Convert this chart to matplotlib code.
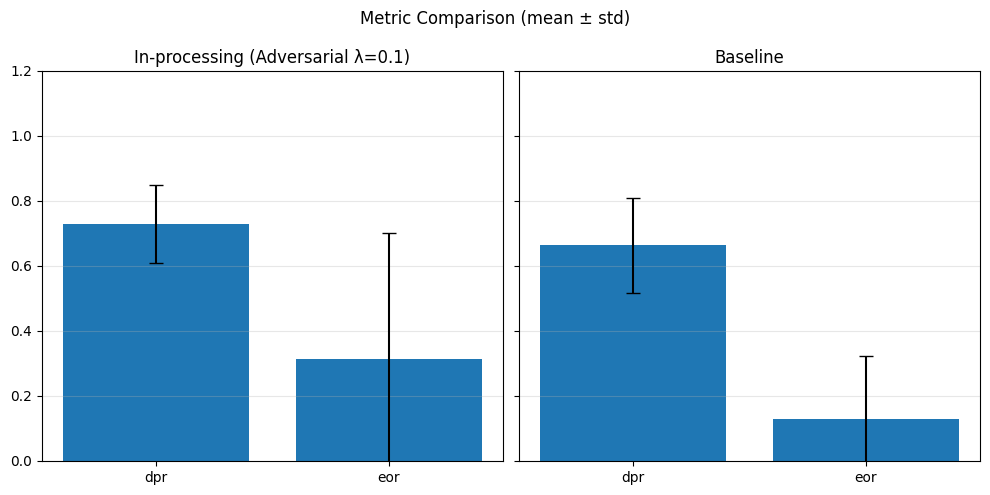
import matplotlib
matplotlib.use('Agg')
import matplotlib.pyplot as plt

metrics = ['dpr', 'eor']
titles = ['In-processing (Adversarial λ=0.1)', 'Baseline']
means = [[0.730, 0.313], [0.663, 0.129]]
stds = [[0.120, 0.387], [0.145, 0.193]]

fig, axes = plt.subplots(1, 2, figsize=(10, 5), dpi=99, sharey=True)
for ax, title, m, s in zip(axes, titles, means, stds):
    ax.bar(metrics, m, yerr=s, capsize=5, color='#1f77b4', ecolor='black')
    ax.set_title(title)
    ax.set_ylim(0, 1.2)
    ax.grid(axis='y', alpha=0.3)

fig.suptitle('Metric Comparison (mean ± std)')
fig.subplots_adjust(left=0.0424, right=0.99, bottom=0.0687, top=0.857, wspace=0.035)
plt.savefig('out.png')
